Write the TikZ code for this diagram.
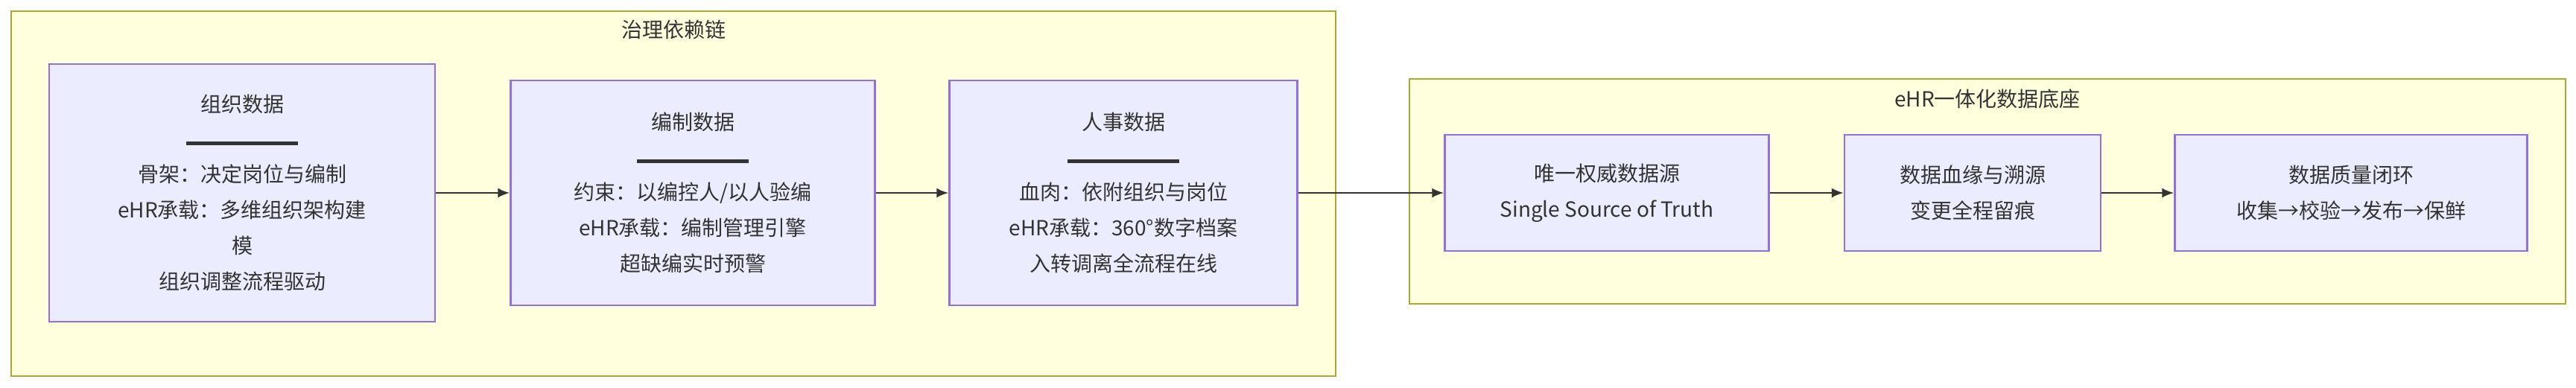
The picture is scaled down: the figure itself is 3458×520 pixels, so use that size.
\documentclass[tikz,border=0pt]{standalone}
\usepackage{fontspec}
\setmainfont{Noto Sans CJK SC}
\usetikzlibrary{arrows.meta}
\begin{document}
\begin{tikzpicture}[
        x=1pt,
        y=-1pt,
        every node/.style={font=\fontsize{28}{48}\selectfont, text=ink},
        cluster/.style={
            fill=clusterfill,
            draw=clusterline,
            line width=2.5pt
          },
        databox/.style={
            rectangle,
            fill=boxfill,
            draw=boxline,
            line width=2.5pt,
            align=center,
            inner sep=0pt
          },
        flow/.style={-{Latex[length=16pt,width=13pt]}, draw=ink, line width=2.5pt}]
        % Define colors
        \definecolor{clusterfill}{HTML}{FFFFDE}
        \definecolor{clusterline}{HTML}{AAAA33}
        \definecolor{boxfill}{HTML}{ECECFF}
        \definecolor{boxline}{HTML}{9370DB}
        \definecolor{ink}{HTML}{333333}
        \newcommand{\titlebar}{\\[-4pt]{\color{ink}\rule{150pt}{5pt}}\\[2pt]}

        \useasboundingbox (0,0) rectangle (3458,520);

        % Draw clusters
        \filldraw[cluster] (15,15) rectangle (1793,505);
        \node (chaintitle) at (904,40) {治理依赖链};
        \filldraw[cluster] (1892,106) rectangle (3444,408);
        \node (basetitle) at (2668,133) {eHR一体化数据底座};

        % Draw chain boxes
        \node[databox, minimum width=518pt, minimum height=346pt] (org) at (325,259)
            {组织数据\titlebar 骨架：决定岗位与编制\\eHR承载：多维组织架构建\\模\\组织调整流程驱动};
        \node[databox, minimum width=489pt, minimum height=302pt] (quota) at (930,259)
            {编制数据\titlebar 约束：以编控人/以人验编\\eHR承载：编制管理引擎\\超缺编实时预警};
        \node[databox, minimum width=467pt, minimum height=302pt] (staff) at (1508,259)
            {人事数据\titlebar 血肉：依附组织与岗位\\eHR承载：360°数字档案\\入转调离全流程在线};

        % Draw base boxes
        \node[databox, minimum width=435pt, minimum height=156pt] (truth) at (2157,259)
            {唯一权威数据源\\Single Source of Truth};
        \node[databox, minimum width=344pt, minimum height=156pt] (lineage) at (2648,259)
            {数据血缘与溯源\\变更全程留痕};
        \node[databox, minimum width=473pt, minimum height=156pt] (quality) at (3156,259)
            {数据质量闭环\\收集→校验→发布→保鲜};

        % Draw arrows
        \draw[flow] (org) -- (quota);
        \draw[flow] (quota) -- (staff);
        \draw[flow] (staff) -- (truth);
        \draw[flow] (truth) -- (lineage);
        \draw[flow] (lineage) -- (quality);
    \end{tikzpicture}
\end{document}
